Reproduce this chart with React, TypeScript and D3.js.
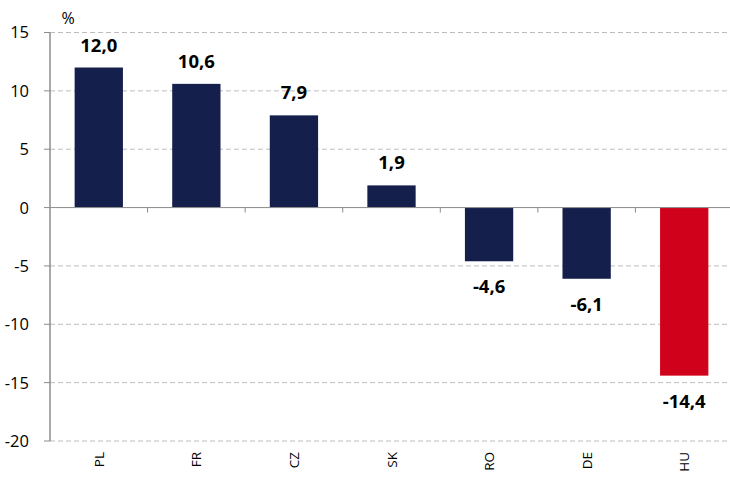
import React from "react";
import * as d3 from "d3";

const categories = ["PL", "FR", "CZ", "SK", "RO", "DE", "HU"];
const values = [12.0, 10.6, 7.9, 1.9, -4.6, -6.1, -14.4];
const yTicks = [15, 10, 5, 0, -5, -10, -15, -20];
const highlight = "HU";

const W = 730;
const H = 479;
const left = 50;
const right = 733;
const top = 32.5;
const bottom = 441;

export default function App() {
  const x = d3.scaleBand<string>().domain(categories).range([left, right]).paddingInner(0.505).paddingOuter(0.2525);
  const y = d3.scaleLinear().domain([-20, 15]).range([bottom, top]);
  const step = x.step();
  const fmt = (v: number) => v.toFixed(1).replace(".", ",");
  const font = "'Open Sans', 'Liberation Sans', sans-serif";
  return (
    <svg width={W} height={H} style={{ position: "absolute", left: 0, top: 0 }} fontFamily={font}>
      {yTicks.map((t) => (
        <g key={t}>
          {t !== 0 && (
            <line x1={left} x2={W} y1={y(t)} y2={y(t)} stroke="#BDBDBD" strokeDasharray="5,3" strokeWidth={1} />
          )}
          <line x1={left - 6} x2={left} y1={y(t)} y2={y(t)} stroke="#8C8C8C" strokeWidth={1} />
          <text x={29} y={y(t)} dy="0.36em" textAnchor="end" fontSize={16.5} fill="#000">
            {t}
          </text>
        </g>
      ))}
      <text x={68} y={24} textAnchor="middle" fontSize={16} fill="#000">%</text>
      {categories.map((c, i) => {
        const v = values[i];
        const bx = x(c)!;
        const bw = x.bandwidth();
        const y0 = y(Math.max(0, v));
        const y1 = y(Math.min(0, v));
        const cx = bx + bw / 2;
        return (
          <g key={c}>
            <rect x={bx} y={y0} width={bw} height={y1 - y0} fill={c === highlight ? "#D0021B" : "#151F4B"} />
            <text
              x={cx}
              y={v >= 0 ? y(v) - 16 : y(v) + 32}
              textAnchor="middle"
              fontSize={18.5}
              fontWeight="bold"
              fill="#000"
            >
              {fmt(v)}
            </text>
            <text
              transform={`translate(${cx + 5},${452}) rotate(-90)`}
              textAnchor="end"
              fontSize={13.5}
              fill="#000"
            >
              {c}
            </text>
          </g>
        );
      })}
      <line x1={left} x2={W} y1={y(0)} y2={y(0)} stroke="#8C8C8C" strokeWidth={1} />
      {categories.map((c, i) => (
        <line key={"t" + c} x1={left + step * (i + 1)} x2={left + step * (i + 1)} y1={y(0)} y2={y(0) + 5} stroke="#8C8C8C" />
      ))}
      <line x1={left} x2={left} y1={top} y2={bottom} stroke="#8C8C8C" strokeWidth={1.5} />
    </svg>
  );
}
